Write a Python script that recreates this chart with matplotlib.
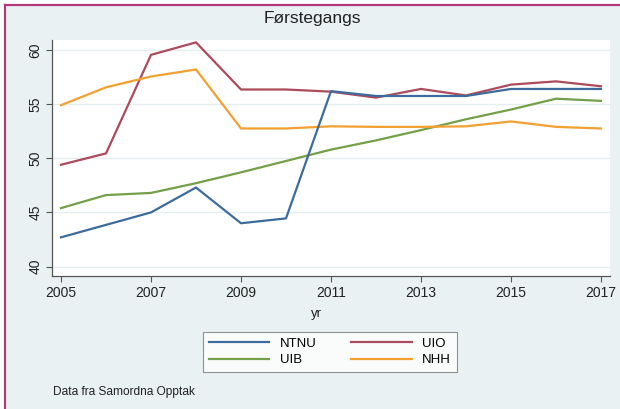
import matplotlib
matplotlib.use("Agg")
import matplotlib.pyplot as plt
from matplotlib.lines import Line2D
from matplotlib.patches import Rectangle

plt.rcParams["font.family"] = ["Liberation Sans", "DejaVu Sans"]

# data
years = [2005, 2006, 2007, 2008, 2009, 2010, 2011, 2012, 2013, 2014, 2015, 2016, 2017]
ntnu = [42.7, 43.85, 45.0, 47.3, 44.0, 44.45, 56.2, 55.75, 55.75, 55.75, 56.4, 56.4, 56.4]
uio = [49.4, 50.45, 59.55, 60.7, 56.35, 56.35, 56.15, 55.6, 56.4, 55.8, 56.8, 57.1, 56.65]
uib = [45.4, 46.6, 46.8, 47.7, 48.7, 49.75, 50.8, 51.65, 52.6, 53.6, 54.5, 55.5, 55.3]
nhh = [54.9, 56.55, 57.55, 58.2, 52.75, 52.75, 52.95, 52.9, 52.9, 52.95, 53.4, 52.9, 52.75]

xticks = [2005, 2007, 2009, 2011, 2013, 2015, 2017]
yticks = [40, 45, 50, 55, 60]

c_ntnu = "#3d6c9c"
c_uio = "#ad4a5c"
c_uib = "#73a048"
c_nhh = "#f2a030"
bg = "#e9f1f3"
border = "#b23a7c"

W, H = 620, 409
fig = plt.figure(figsize=(6.2, 4.09), dpi=100)
fig.patch.set_facecolor("white")

# outer graph region with the pink frame on the top and left
fig.add_artist(Rectangle((5 / W, 0), 1 - 5 / W, 1 - 5 / H, transform=fig.transFigure,
                         facecolor=bg, edgecolor="none", zorder=-10))
fig.add_artist(Line2D([5 / W, 1], [1 - 5 / H, 1 - 5 / H], transform=fig.transFigure,
                      color=border, lw=1.6))
fig.add_artist(Line2D([5 / W, 5 / W], [0, 1 - 5 / H], transform=fig.transFigure,
                      color=border, lw=1.6))

ax = fig.add_axes([52 / W, 1 - 276 / H, 558 / W, 236 / H])
ax.set_facecolor("white")

ax.plot(years, ntnu, color=c_ntnu, lw=1.6, label="NTNU", zorder=3)
ax.plot(years, uio, color=c_uio, lw=1.6, label="UIO", zorder=2)
ax.plot(years, uib, color=c_uib, lw=1.6, label="UIB", zorder=2)
ax.plot(years, nhh, color=c_nhh, lw=1.6, label="NHH", zorder=2)

ax.set_xlim(2004.8, 2017.2)
ax.set_ylim(39.13, 60.92)
ax.set_xticks(xticks)
ax.set_yticks(yticks)
ax.set_yticklabels([str(v) for v in yticks], rotation=90, va="center")
ax.tick_params(axis="both", labelsize=10, color="#555555", length=4, width=0.8,
               labelcolor="#222222", pad=3)
ax.grid(axis="y", color="#e6eef0", lw=1.0, zorder=0)

for s in ["top", "right"]:
    ax.spines[s].set_visible(False)
for s in ["left", "bottom"]:
    ax.spines[s].set_color("#555555")
    ax.spines[s].set_linewidth(0.9)

fig.text(312 / W, 1 - 19 / H, "Førstegangs", ha="center", va="center",
         fontsize=12.5, color="#222222")
fig.text(316 / W, 1 - 314 / H, "yr", ha="center", va="center",
         fontsize=9.5, color="#222222")
fig.text(53 / W, 1 - 392 / H, "Data fra Samordna Opptak", ha="left", va="center",
         fontsize=8.6, color="#222222")

handles, labels = ax.get_legend_handles_labels()
order = [0, 2, 1, 3]
leg = fig.legend([handles[i] for i in order], [labels[i] for i in order],
                 ncol=2, loc="center", bbox_to_anchor=(330 / W, 1 - 352 / H),
                 fontsize=9.5, frameon=True, fancybox=False, handlelength=4.6,
                 columnspacing=2.6, handletextpad=0.8, borderpad=0.45,
                 labelspacing=0.3)
leg.get_frame().set_edgecolor("#777777")
leg.get_frame().set_linewidth(0.8)
leg.get_frame().set_facecolor("white")

fig.savefig("out.png", dpi=100)
